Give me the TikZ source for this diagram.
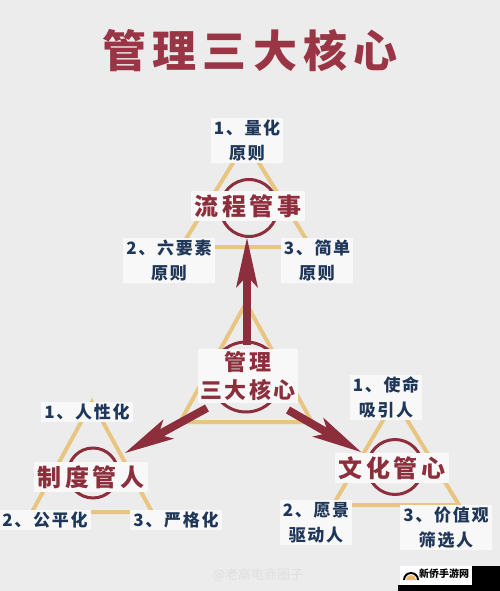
\documentclass[tikz,border=0pt]{standalone}
\usepackage{fontspec}
\usetikzlibrary{arrows.meta}
\newfontfamily\cjk{Noto Sans CJK SC}
\newfontfamily\cjkserif{Noto Sans CJK SC}
\definecolor{bgc}{HTML}{ECECEC}
\definecolor{boxc}{HTML}{F8F8F8}
\definecolor{titlered}{HTML}{9A3545}
\definecolor{darkred}{HTML}{8C2E3B}
\definecolor{gold}{HTML}{E8C681}
\definecolor{navy}{HTML}{1F3759}
\tikzset{
  tri/.style={draw=gold, line width=4pt, line join=miter},
  ring/.style={draw=darkred, line width=3pt},
  lbl/.style={fill=boxc, text=navy, inner xsep=3pt, inner ysep=2pt, align=center,
    font=\cjk\bfseries\fontsize{17}{25}\selectfont\addfontfeatures{LetterSpace=10}},
  core/.style={fill=boxc, text=darkred, inner xsep=3pt, inner ysep=3pt,
    font=\cjk\bfseries\fontsize{24}{28}\selectfont\addfontfeatures{LetterSpace=16}},
  hub/.style={fill=boxc, text=darkred, inner xsep=3pt, inner ysep=2pt, align=center,
    font=\cjk\bfseries\fontsize{22}{28}\selectfont\addfontfeatures{LetterSpace=10}},
  bigarrow/.style={draw=darkred, line width=8pt,
    -{Stealth[length=50pt,width=22pt,inset=12pt,line width=0pt]}},
}
\begin{document}
\begin{tikzpicture}[x=1pt,y=-1pt]
\useasboundingbox (0,0) rectangle (500,591);
\fill[bgc] (0,0) rectangle (500,591);

% title
\node[text=titlered, font=\cjk\bfseries\fontsize{44}{48}\selectfont\addfontfeatures{LetterSpace=14}] (title) at (250,51) {管理三大核心};

% triangles
\draw[tri] (246,142) -- (181,247) -- (311,247) -- cycle;
\draw[tri] (246,303) -- (180,422) -- (312,422) -- cycle;
\draw[tri] (92,402) -- (32,512) -- (152,512) -- cycle;
\draw[tri] (395,400) -- (333,505) -- (459,505) -- cycle;

% rings
\draw[ring] (249,208) circle[radius=28.5pt];
\draw[ring] (246,377) circle[radius=35pt];
\draw[ring] (93,473) circle[radius=25pt];
\draw[ring] (395,467) circle[radius=27.5pt];

% arrow end points
\coordinate (upTail) at (247,345);
\coordinate (upTip) at (247,238);
\coordinate (lTail) at (207,408);
\coordinate (lTip) at (125,453);
\coordinate (rTail) at (288,410);
\coordinate (rTip) at (361,452);
\draw[bigarrow] (upTail) -- (upTip);
\draw[bigarrow] (lTail) -- (lTip);
\draw[bigarrow] (rTail) -- (rTip);

% top structure
\node[core] (c1) at (248,206) {流程管事};
\node[lbl] (a1) at (247,140.5) {1、量化\\原则};
\node[lbl] (a2) at (169,260.5) {2、六要素\\原则};
\node[lbl] (a3) at (317,260.5) {3、简单\\原则};

% hub
\node[hub] (hub) at (248,376) {管理\\三大核心};

% left structure
\node[core] (c2) at (91,477) {制度管人};
\node[lbl] (b1) at (87,412) {1、人性化};
\node[lbl] (b2) at (45,520) {2、公平化};
\node[lbl] (b3) at (176,520) {3、严格化};

% right structure
\node[core] (c3) at (392,468) {文化管心};
\node[lbl] (d1) at (386,397.5) {1、使命\\吸引人};
\node[lbl] (d2) at (316,522.5) {2、愿景\\驱动人};
\node[lbl] (d3) at (446,527.5) {3、价值观\\筛选人};

% watermarks
\node[text=white!75!gray, font=\cjk\fontsize{13}{15}\selectfont] (wm) at (258,575) {@老高电商圈子};
\fill[black] (472,566) rectangle (500,591);
\fill[black] (398,585) rectangle (500,591);
\fill[white] (400,566) rectangle (472,585);
\fill[black] (403,580) arc[start angle=180,end angle=0,radius=8pt] -- (417,580) arc[start angle=0,end angle=180,radius=6pt] -- cycle;
\fill[gold!80!orange] (406,580) arc[start angle=180,end angle=0,radius=5pt] -- cycle;
\node[text=black, font=\cjkserif\bfseries\fontsize{10}{12}\selectfont] (logo) at (444,574) {新侨手游网};
\end{tikzpicture}
\end{document}
